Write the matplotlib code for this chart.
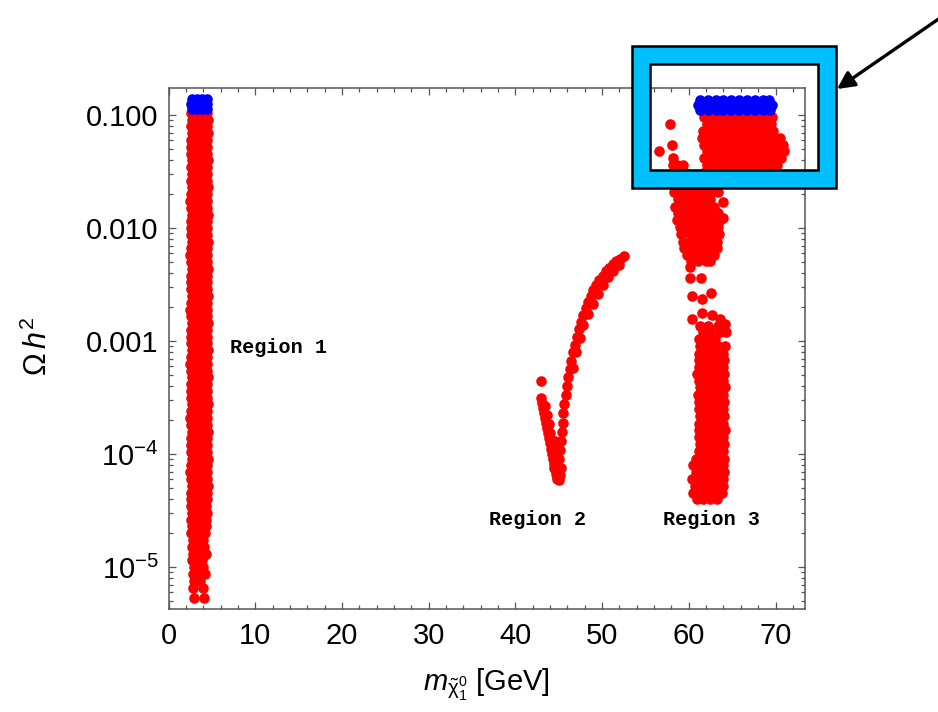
import matplotlib
matplotlib.use("Agg")
import matplotlib.pyplot as plt
from matplotlib.patches import Rectangle
from matplotlib.ticker import FixedLocator, LogLocator, MultipleLocator, NullFormatter

# values, rows as {log10(Omega h^2): [m_chi in GeV, ...]}
region1_red = {
    -0.98: [2.6, 3.2, 3.8, 4.4], -1.04: [2.7, 3.45, 4.1, 4.5],
    -1.10: [2.55, 3.15, 3.8, 4.45], -1.16: [2.75, 3.45, 4.1, 4.5],
    -1.22: [2.55, 3.2, 3.8, 4.4], -1.28: [2.65, 3.45, 4.1, 4.45],
    -1.34: [2.6, 3.2, 3.8, 4.4], -1.40: [2.75, 3.45, 4.1, 4.55],
    -1.46: [2.55, 3.15, 3.8, 4.4], -1.52: [2.7, 3.45, 4.1, 4.45],
    -1.58: [2.6, 3.2, 3.8, 4.45], -1.64: [2.75, 3.45, 4.1, 4.5],
    -1.70: [2.55, 3.2, 3.8, 4.4], -1.76: [2.5, 3.45, 4.1, 4.4],
    -1.82: [2.6, 3.15, 3.8, 4.4], -1.88: [2.75, 3.45, 4.1, 4.55],
    -1.94: [2.55, 3.2, 3.8, 4.4], -2.00: [2.6, 3.45, 4.1, 4.45],
    -2.06: [2.6, 3.2, 3.8, 4.45], -2.12: [2.75, 3.45, 4.1, 4.5],
    -2.18: [2.55, 3.15, 3.8, 4.4], -2.24: [2.5, 3.45, 4.1, 4.4],
    -2.30: [2.6, 3.2, 3.8, 4.4], -2.36: [2.75, 3.45, 4.1, 4.55],
    -2.42: [2.55, 3.2, 3.8, 4.4], -2.48: [2.6, 3.45, 4.1, 4.45],
    -2.54: [2.6, 3.15, 3.8, 4.45], -2.60: [2.75, 3.45, 4.1, 4.5],
    -2.66: [2.55, 3.2, 3.8, 4.4], -2.72: [2.5, 3.45, 4.1, 4.4],
    -2.78: [2.6, 3.2, 3.8, 4.4], -2.84: [2.75, 3.45, 4.1, 4.55],
    -2.90: [2.55, 3.15, 3.8, 4.4], -2.96: [2.6, 3.45, 4.1, 4.45],
    -3.02: [2.6, 3.2, 3.8, 4.45], -3.08: [2.75, 3.45, 4.1, 4.5],
    -3.14: [2.55, 3.2, 3.8, 4.4], -3.20: [2.5, 3.45, 4.1, 4.4],
    -3.26: [2.6, 3.15, 3.8, 4.4], -3.32: [2.75, 3.45, 4.1, 4.55],
    -3.38: [2.55, 3.2, 3.8, 4.4], -3.44: [2.6, 3.45, 4.1, 4.45],
    -3.50: [2.6, 3.2, 3.8, 4.45], -3.56: [2.75, 3.45, 4.1, 4.5],
    -3.62: [2.55, 3.15, 3.8, 4.4], -3.68: [2.5, 3.45, 4.1, 4.4],
    -3.74: [2.6, 3.2, 3.8, 4.4], -3.80: [2.75, 3.45, 4.1, 4.55],
    -3.86: [2.55, 3.2, 3.8, 4.4], -3.92: [2.6, 3.45, 4.1, 4.45],
    -3.98: [2.6, 3.15, 3.8, 4.45], -4.04: [2.75, 3.45, 4.1, 4.5],
    -4.10: [2.55, 3.2, 3.8, 4.4], -4.16: [2.5, 3.45, 4.1, 4.4],
    -4.22: [2.6, 3.2, 3.8, 4.4], -4.28: [2.75, 3.45, 4.1, 4.5],
    -4.34: [2.55, 3.15, 3.8, 4.4], -4.40: [2.65, 3.45, 4.1, 4.4],
    -4.46: [2.6, 3.2, 3.8, 4.35], -4.52: [2.75, 3.45, 4.1, 4.4],
    -4.58: [2.6, 3.2, 3.8, 4.3], -4.64: [2.7, 3.4, 4.0, 4.3],
    -4.70: [2.65, 3.2, 3.8, 4.2], -4.76: [2.8, 3.45, 4.0],
    -4.82: [2.7, 3.25, 3.85, 4.15], -4.88: [2.85, 3.5, 4.1, 4.3],
    -4.94: [2.7, 3.3, 3.9], -5.00: [2.9, 3.5, 4.0],
    -5.06: [2.8, 3.35, 3.9, 4.2], -5.12: [2.9, 3.6],
    -5.18: [2.8, 4.0], -5.27: [2.9, 4.1],
}
region1_blue = {
    -0.86: [2.7, 3.3, 3.9, 4.4],
    -0.905: [2.6, 3.2, 3.8, 4.45],
    -0.95: [2.7, 3.3, 3.9, 4.4],
}

region2_mass = [
    # isolated point and left arm
    42.95,
    43.0, 43.1, 43.2, 43.35, 43.45, 43.55, 43.7, 43.8, 43.9, 44.0, 44.1, 44.25,
    44.35, 44.45, 44.55, 44.7, 44.8,
    # inner edge of the left arm
    43.45, 43.65, 43.85, 44.05, 44.25,
    # bottom of the dip
    44.55, 44.6, 44.7, 44.5, 45.3, 45.2, 45.0,
    # right arm
    44.85, 44.95, 45.05, 45.15, 45.25, 45.35, 45.45, 45.55, 45.65, 45.8, 45.95,
    46.1, 46.25, 46.45, 46.65, 46.85, 47.05, 47.3, 47.55, 47.8, 48.1, 48.4, 48.7,
    49.0, 49.35, 49.7, 50.05, 50.45, 50.85, 51.25, 51.65, 52.05, 52.5,
    # outer edge of the right arm
    46.6, 47.0, 47.4, 47.85, 48.35, 48.9, 49.5, 50.1, 50.7, 51.3, 51.9,
]
region2_logy = [
    -3.35,
    -3.50, -3.545, -3.59, -3.635, -3.68, -3.725, -3.77, -3.815, -3.86, -3.905,
    -3.95, -3.995, -4.04, -4.085, -4.13, -4.175, -4.22,
    -3.57, -3.65, -3.73, -3.81, -3.89,
    -3.88, -3.96, -4.04, -4.12, -4.12, -4.18, -4.23,
    -4.20, -4.12, -4.04, -3.96, -3.88, -3.80, -3.72, -3.64, -3.56, -3.48, -3.40,
    -3.32, -3.25, -3.18, -3.10, -3.03, -2.96, -2.89, -2.83, -2.77, -2.71, -2.65,
    -2.60, -2.55, -2.50, -2.46, -2.42, -2.38, -2.35, -2.32, -2.29, -2.27, -2.25,
    -3.24, -3.10, -2.97, -2.86, -2.76, -2.67, -2.58, -2.50, -2.43, -2.38, -2.33,
]

region3_red = {
    # upper block near the relic density
    -1.02: [61.7, 62.6, 63.5, 64.4, 65.3, 66.3, 67.2, 68.1, 69.0, 69.6],
    -1.08: [57.8, 62.1, 63.0, 63.9, 64.9, 65.8, 66.7, 67.6, 68.6, 69.5],
    -1.14: [61.6, 62.6, 63.5, 64.4, 65.3, 66.3, 67.2, 68.1, 69.0, 69.7],
    -1.20: [61.5, 62.1, 63.0, 63.9, 64.9, 65.8, 66.7, 67.6, 68.6, 69.5, 70.5],
    -1.26: [58.1, 61.7, 62.6, 63.5, 64.4, 65.3, 66.3, 67.2, 68.1, 69.0, 69.9, 70.9],
    -1.32: [56.6, 62.1, 63.0, 63.9, 64.9, 65.8, 66.7, 67.6, 68.6, 69.5, 70.4, 71.0],
    -1.38: [58.2, 61.8, 62.6, 63.5, 64.4, 65.3, 66.3, 67.2, 68.1, 69.0, 69.9, 70.6],
    -1.44: [58.2, 58.65, 59.35, 62.1, 63.0, 63.9, 64.9, 65.8, 66.7, 67.6, 68.6, 69.5, 70.2],
    -1.50: [58.5, 59.4, 61.9, 62.6, 63.5, 64.4, 65.3, 66.3, 67.2, 68.1, 69.0],
    -1.56: [58.3, 59.2, 60.1, 61.2, 62.1, 63.0, 63.9, 64.9, 65.8, 66.7],
    -1.62: [58.4, 59.3, 60.2, 61.1, 62.1, 63.0],
    # cluster just below the box
    -1.68: [58.3, 59.2, 60.15, 61.1, 62.0, 62.6, 63.4],
    -1.74: [58.7, 59.7, 60.6, 61.5, 62.5],
    -1.77: [63.9],
    -1.81: [58.4, 59.2, 60.15, 61.1, 62.0, 62.9],
    -1.87: [58.8, 59.7, 60.6, 61.5, 62.5, 63.4],
    -1.91: [63.95],
    -1.93: [58.6, 59.2, 60.15, 61.1, 62.0, 62.9, 63.6],
    -1.99: [59.0, 59.7, 60.6, 61.5, 62.5, 63.4],
    -2.05: [59.1, 60.15, 61.1, 62.0, 62.9, 63.5],
    -2.12: [59.3, 60.1, 60.6, 61.5, 62.5, 63.3],
    -2.18: [59.5, 60.15, 61.1, 62.0, 62.9, 63.3],
    -2.24: [59.8, 60.6, 61.5, 62.5, 62.9],
    -2.29: [60.2, 61.1, 62.0, 62.5],
    -2.34: [60.1],
    # sparse points
    -2.44: [60.15, 61.4],
    -2.57: [62.6],
    -2.60: [60.4],
    -2.63: [61.5],
    -2.75: [61.5],
    -2.77: [62.7],
    -2.80: [60.4, 63.6],
    -2.85: [64.2],
    # lower column
    -2.87: [61.3, 62.2, 63.4],
    -2.92: [61.6, 62.5, 63.6, 64.3],
    -2.98: [61.2, 62.1, 63.0],
    -3.04: [61.3, 61.6, 62.5, 63.4, 64.2],
    -3.11: [61.2, 62.1, 63.0, 63.9],
    -3.17: [61.2, 61.6, 62.5, 63.4, 64.1],
    -3.23: [61.2, 62.1, 63.0, 63.9],
    -3.29: [61.0, 61.6, 62.5, 63.4, 64.1],
    -3.35: [61.2, 62.1, 63.0, 63.9],
    -3.41: [61.3, 61.6, 62.5, 63.4, 64.2],
    -3.48: [61.1, 62.1, 63.0, 63.9],
    -3.54: [61.2, 61.6, 62.5, 63.4, 64.1],
    -3.60: [61.2, 62.1, 63.0, 63.9],
    -3.66: [61.3, 61.6, 62.5, 63.4, 64.1],
    -3.73: [61.2, 62.1, 63.0, 63.9],
    -3.79: [61.2, 61.6, 62.5, 63.4, 64.2],
    -3.85: [61.2, 62.1, 63.0, 63.9],
    -3.91: [61.3, 61.6, 62.5, 63.4, 64.1],
    -3.97: [61.2, 62.1, 63.0, 63.9],
    -4.04: [60.8, 61.6, 62.5, 63.4, 64.1],
    -4.10: [60.5, 61.2, 62.1, 63.0, 63.9],
    -4.16: [60.8, 61.6, 62.5, 63.4, 64.1],
    -4.22: [60.4, 61.2, 62.1, 63.0, 63.9],
    -4.28: [60.7, 61.6, 62.5, 63.4, 64.0],
    -4.34: [60.5, 61.2, 62.1, 63.0, 63.8],
    -4.40: [60.9, 61.6, 62.5, 63.3],
}
region3_blue = {
    -0.87: [61.3, 62.2, 63.1, 64.0, 64.9, 65.8, 66.7, 67.6, 68.5, 69.3],
    -0.91: [61.1, 62.05, 63.0, 63.95, 64.9, 65.85, 66.8, 67.75, 68.7, 69.65],
    -0.955: [61.3, 62.2, 63.1, 64.0, 64.9, 65.8, 66.7, 67.6, 68.5, 69.4],
}

region_labels = ["Region 1", "Region 2", "Region 3"]
label_mass = [7.1, 37.0, 57.0]
label_logy = [-3.06, -4.58, -4.58]

ytick_vals = [1e-1, 1e-2, 1e-3, 1e-4, 1e-5]
ytick_text = ["0.100", "0.010", "0.001", r"$10^{-4}$", r"$10^{-5}$"]


def unpack(rows):
    xs, ys = [], []
    for ly, masses in rows.items():
        for m in masses:
            xs.append(m)
            ys.append(10 ** ly)
    return xs, ys


plt.rcParams["font.family"] = ["Liberation Sans", "DejaVu Sans"]
plt.rcParams["mathtext.fontset"] = "custom"
plt.rcParams["mathtext.rm"] = "Liberation Sans"
plt.rcParams["mathtext.it"] = "Liberation Sans:italic"
plt.rcParams["mathtext.default"] = "regular"

W, H = 938, 712
fig = plt.figure(figsize=(W / 100, H / 100), dpi=100)
ax = fig.add_axes([168.5 / W, 1 - 609 / H, (805 - 168.5) / W, (609 - 88) / H])
ax.set_yscale("log")

ms = 58
for rows in (region1_red, region3_red):
    xs, ys = unpack(rows)
    ax.scatter(xs, ys, s=ms, c="#ff0000", linewidths=0, zorder=2)
ax.scatter(region2_mass, [10 ** v for v in region2_logy], s=ms, c="#ff0000",
           linewidths=0, zorder=2)
for rows in (region1_blue, region3_blue):
    xs, ys = unpack(rows)
    ax.scatter(xs, ys, s=ms, c="#0000ff", linewidths=0, zorder=3)

for txt, lx, ly in zip(region_labels, label_mass, label_logy):
    ax.text(lx, 10 ** ly, txt, family="Liberation Mono", weight="bold",
            fontsize=14.5, ha="left", va="center")

ax.set_xlim(0, 73.4)
ax.set_ylim(10 ** -5.37, 10 ** -0.76)
ax.xaxis.set_major_locator(MultipleLocator(10))
ax.xaxis.set_minor_locator(MultipleLocator(2))
ax.yaxis.set_major_locator(FixedLocator(ytick_vals))
ax.set_yticklabels(ytick_text)
ax.yaxis.set_minor_locator(LogLocator(base=10, subs=range(2, 10)))
ax.yaxis.set_minor_formatter(NullFormatter())

for sp in ax.spines.values():
    sp.set_color("#555555")
    sp.set_linewidth(1.1)
ax.tick_params(which="both", direction="in", top=True, right=True,
               color="#555555", width=0.9)
ax.tick_params(which="major", length=5, labelsize=21, pad=7)
ax.tick_params(which="minor", length=3)
ax.tick_params(axis="x", which="major", pad=9)

ax.set_xlabel(r"$\mathit{m}_{\tilde{\chi}^{0}_{1}}$ [GeV]", fontsize=21)
ax.xaxis.set_label_coords(0.5, -0.11)
ax.set_ylabel(r"$\Omega\,\mathit{h}^{2}$", fontsize=22)
ax.yaxis.set_label_coords(-0.18, 0.503)

# highlight box over the relic-density corner
cyan = "#00bfff"
fig.add_artist(Rectangle((641 / W, 1 - 179 / H), 186 / W, 124 / H, fill=False,
                         edgecolor=cyan, linewidth=13, joinstyle="miter",
                         transform=fig.transFigure, zorder=5))
fig.add_artist(Rectangle((632 / W, 1 - 188 / H), 204 / W, 142 / H, fill=False,
                         edgecolor="black", linewidth=1.8,
                         transform=fig.transFigure, zorder=6))
fig.add_artist(Rectangle((650 / W, 1 - 170 / H), 168 / W, 106 / H, fill=False,
                         edgecolor="black", linewidth=1.8,
                         transform=fig.transFigure, zorder=6))
ax.annotate("", xy=(837, H - 89), xytext=(940, H - 18), xycoords="figure pixels",
            textcoords="figure pixels", annotation_clip=False,
            arrowprops=dict(arrowstyle="-|>", lw=2.4, color="black",
                            mutation_scale=26, shrinkA=0, shrinkB=0))

fig.savefig("out.png", dpi=100)
